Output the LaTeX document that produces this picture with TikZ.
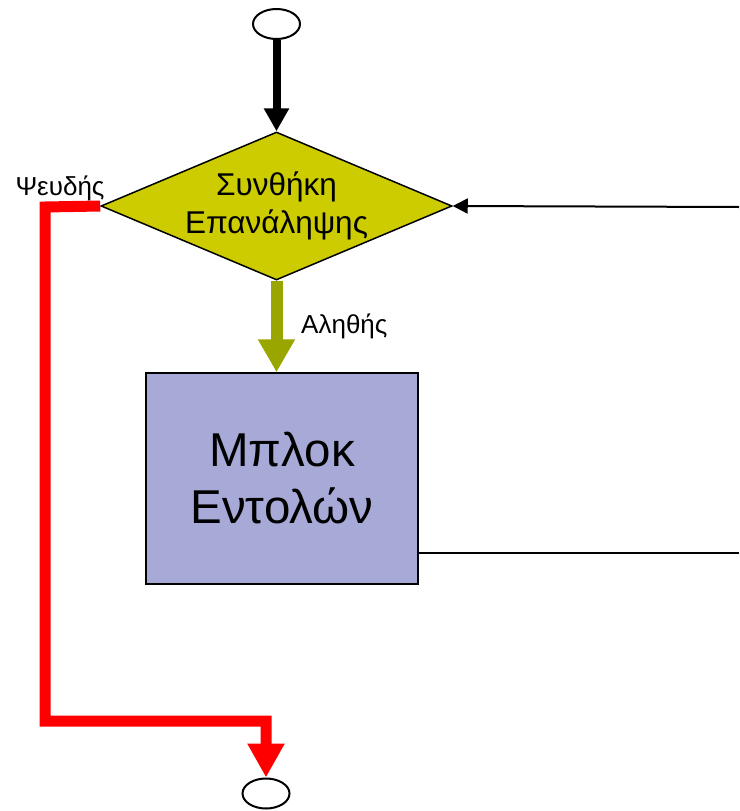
\documentclass[tikz,border=0pt]{standalone}
\usepackage{fontspec}
\setmainfont{Liberation Sans}
\usetikzlibrary{shapes.geometric,arrows.meta}
\definecolor{condfill}{HTML}{CCCC00}
\definecolor{boxfill}{HTML}{A7A9D7}
\definecolor{truegreen}{HTML}{99A600}
\definecolor{falsered}{HTML}{FF0000}
\tikzset{
  terminal/.style={ellipse,draw,line width=2pt,fill=white,minimum width=47pt,minimum height=30pt,inner sep=0pt},
  condnode/.style={diamond,draw,line width=1.5pt,fill=condfill,shape aspect=2.37,minimum width=351pt,minimum height=148pt,inner sep=0pt,align=center,font=\fontsize{31.5}{38}\selectfont},
  blockbox/.style={rectangle,draw,line width=1.5pt,fill=boxfill,minimum width=272pt,minimum height=211pt,align=center,font=\fontsize{47.5}{57}\selectfont},
  lbl/.style={font=\fontsize{26}{30}\selectfont,inner sep=0pt},
}
\begin{document}
\begin{tikzpicture}[x=1pt,y=-1pt]
\useasboundingbox (0,0) rectangle (739,811);
\node[terminal] (start) at (276.5,24) {};
\node[condnode] (cond) at (276.5,206) {Συνθήκη\\Επανάληψης};
\node[blockbox] (block) at (282,478.5) {Μπλοκ\\Εντολών};
\node[terminal] (end) at (266,793.5) {};
\node[lbl] (false) at (60,188) {Ψευδής};
\node[lbl,anchor=west] (true) at (301,326) {Αληθής};
\coordinate (r1) at (45,207);
\coordinate (r2) at (45,721);
\coordinate (lb) at (418,553);
\coordinate (rb) at (739,553);
\coordinate (rt) at (739,207);
\draw[line width=8pt,-{Triangle[length=23pt,width=24pt]}] (start.south) -- (cond.north);
\draw[line width=12pt,truegreen,-{Triangle[length=33pt,width=35pt]}] (cond.south) -- (cond.south |- block.north);
\draw[line width=11pt,falsered,line join=miter,-{Triangle[length=34pt,width=35pt]}] (cond.west) -- (r1) -- (r2) -| (end.north);
\draw[line width=2pt] (lb) -- (rb);
\draw[line width=2pt,-{Triangle[length=15pt,width=15pt]}] (rt) -- (cond.east);
\end{tikzpicture}
\end{document}
